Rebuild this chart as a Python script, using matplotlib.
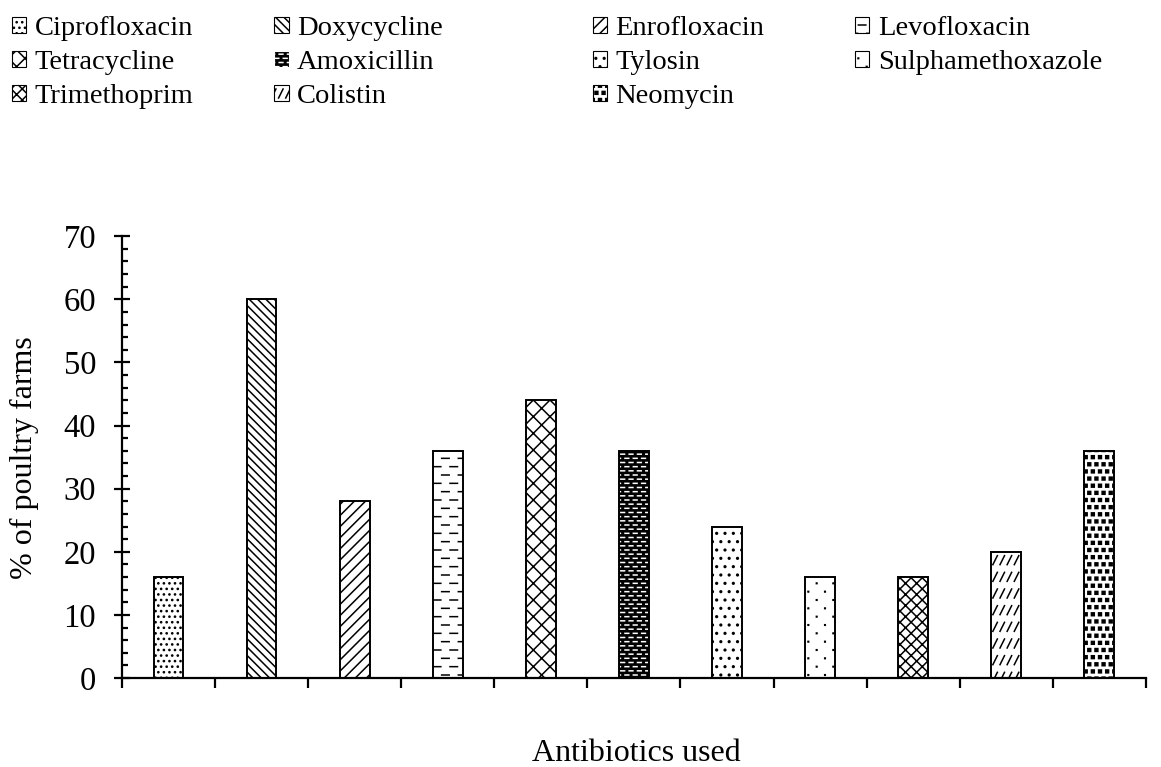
import warnings
warnings.filterwarnings("ignore")
import matplotlib
matplotlib.use("Agg")
import matplotlib.pyplot as plt
from matplotlib.patches import Patch
from matplotlib import hatch as mhatch
from matplotlib.path import Path
import numpy as np

antibiotics = ["Ciprofloxacin", "Doxycycline", "Enrofloxacin", "Levofloxacin",
               "Tetracycline", "Amoxicillin", "Tylosin", "Sulphamethoxazole",
               "Trimethoprim", "Colistin", "Neomycin"]
percent_farms = [16, 60, 28, 36, 44, 36, 24, 16, 16, 20, 36]

hatches = ["...", "\\\\\\\\", "///", "_", "xx", "__", "..", ",",
           "xxx", ";", "#"]
faces = ["white"] * 11
faces[5] = "black"
hcolors = ["black"] * 11
hcolors[5] = "white"


# ---- custom hatch patterns (dashes, tiny dots, squares, short slashes) ----
class _CustomHatch(mhatch.HatchPatternBase):
    char = None

    def __init__(self, hatch, density):
        n = hatch.count(self.char) if hatch else 0
        self.items = self.build(n) if n else []
        self.num_vertices = sum(len(v) for v, c in self.items)

    def build(self, n):
        return []

    def set_vertices_and_codes(self, vertices, codes):
        i = 0
        for v, c in self.items:
            k = len(v)
            vertices[i:i + k] = v
            codes[i:i + k] = c
            i += k


def _square(cx, cy, h):
    v = np.array([[cx - h, cy - h], [cx + h, cy - h], [cx + h, cy + h],
                  [cx - h, cy + h], [cx - h, cy - h]])
    c = np.array([Path.MOVETO, Path.LINETO, Path.LINETO, Path.LINETO,
                  Path.CLOSEPOLY], dtype=Path.code_type)
    return v, c


class DashHatch(_CustomHatch):
    char = "_"

    def build(self, n):
        R, C = 12 * n, 6 * n
        out = []
        for r in range(R + 1):
            y = r / R
            shift = 0.5 if r % 2 else 0.0
            for col in range(-1, C + 1):
                x0 = (col + shift) / C
                out.append((np.array([[x0, y], [x0 + 0.45 / C, y]]),
                            np.array([Path.MOVETO, Path.LINETO],
                                     dtype=Path.code_type)))
        return out


class TinyDotHatch(_CustomHatch):
    char = ","

    def build(self, n):
        R, C = 12 * n, 6 * n
        out = []
        for r in range(R + 1):
            y = r / R
            shift = 0.5 if r % 2 else 0.0
            for col in range(-1, C + 1):
                out.append(_square((col + shift) / C, y, 0.003))
        return out


class SquareHatch(_CustomHatch):
    char = "#"

    def build(self, n):
        R = 14 * n
        out = []
        for r in range(R + 1):
            y = r / R
            shift = 0.5 if r % 2 else 0.0
            for col in range(-1, R + 1):
                out.append(_square((col + shift) / R, y, 0.2 / R))
        return out


class SlashDashHatch(_CustomHatch):
    char = ";"

    def build(self, n):
        R, C = 6 * n, 14 * n
        out = []
        for r in range(-1, R + 1):
            y = r / R
            for col in range(-1, C + 1):
                x = col / C
                out.append((np.array([[x, y + 0.02], [x + 0.045, y + 0.11]]),
                            np.array([Path.MOVETO, Path.LINETO],
                                     dtype=Path.code_type)))
        return out


mhatch._hatch_types.extend([DashHatch, TinyDotHatch, SquareHatch,
                            SlashDashHatch])

plt.rcParams['font.family'] = ['Liberation Serif', 'DejaVu Serif']
plt.rcParams['hatch.linewidth'] = 1.1

fig = plt.figure(figsize=(11.61, 7.67), dpi=100)
ax = fig.add_axes([0.105, 0.116, 0.882, 0.576])

x = np.arange(len(antibiotics))
width = 0.32
for i in range(len(antibiotics)):
    ax.bar(x[i], percent_farms[i], width, color=faces[i], hatch=hatches[i],
           edgecolor=hcolors[i], linewidth=0, zorder=2)
    ax.bar(x[i], percent_farms[i], width, facecolor="none",
           edgecolor="black", linewidth=1.4, zorder=3)

ax.set_xlim(-0.5, len(antibiotics) - 0.5)
ax.set_ylim(0, 70)
ax.set_yticks(np.arange(0, 71, 10))
ax.set_yticks(np.arange(0, 71, 2), minor=True)
ax.set_xticks(np.arange(-0.5, len(antibiotics), 1))
ax.set_xticklabels([])
ax.spines['top'].set_visible(False)
ax.spines['right'].set_visible(False)
ax.spines['left'].set_linewidth(1.6)
ax.spines['bottom'].set_linewidth(1.6)
ax.tick_params(axis='y', which='major', direction='inout', length=11, width=1.6,
               labelsize=23.5, pad=13)
ax.tick_params(axis='y', which='minor', direction='in', length=4.5, width=1.6)
ax.tick_params(axis='x', which='major', direction='out', length=7, width=1.6)
ax.set_ylabel("% of poultry farms", fontsize=23)
ax.yaxis.set_label_coords(-0.081, 0.5)
fig.text(636 / 1161, 6 / 767, "Antibiotics used", fontsize=23,
         ha="center", va="baseline")

# Legend laid out in row-major order as 4 columns
col_x = [0.003, 0.229, 0.503, 0.729]
ncol = 4
for c in range(ncol):
    idx = list(range(c, len(antibiotics), ncol))
    handles = []
    for i in idx:
        handles.append(Patch(facecolor=faces[i], edgecolor=hcolors[i],
                             hatch=hatches[i], linewidth=0.8))
    leg = fig.legend(handles, [antibiotics[i] for i in idx],
                     loc="upper left", bbox_to_anchor=(col_x[c], 0.99),
                     frameon=False, fontsize=20.5, handlelength=0.5,
                     handleheight=0.5, handletextpad=0.3, labelspacing=0.31,
                     borderaxespad=0.0, borderpad=0.3)

fig.savefig("out.png", dpi=100)
